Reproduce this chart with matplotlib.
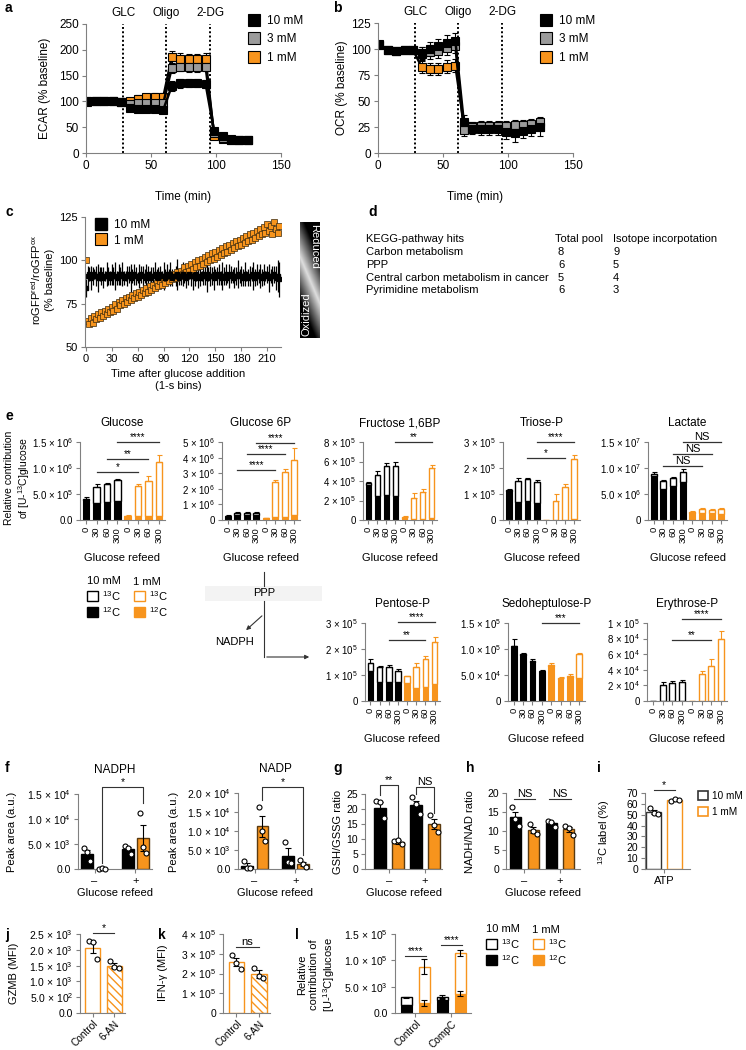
import numpy as np
import matplotlib.pyplot as plt
from matplotlib.lines import Line2D
from matplotlib.patches import Patch, Rectangle

# ---------------- data ----------------
# a / b : Seahorse traces (% baseline)
t_min = [1, 7.5, 14, 20.5, 27, 33.5, 40, 46.5, 53, 59.5, 66, 72.5, 79, 85.5, 92, 98.5, 105, 111.5, 118, 124.5]
inj_min = [28.5, 61.5, 95.5]
inj_labels = ['GLC', 'Oligo', '2-DG']
conc_labels = ['10 mM', '3 mM', '1 mM']

ecar_10 = [101, 101, 100, 100, 98, 87, 85, 85, 85, 84, 130, 135, 135, 135, 134, 43, 33, 28, 26, 26]
ecar_10_err = [3, 2, 2, 2, 2, 5, 5, 5, 5, 5, 9, 9, 8, 8, 8, 4, 3, 2, 2, 2]
ecar_3 = [100, 100, 100, 100, 98, 94, 96, 97, 97, 97, 165, 167, 166, 166, 167, 38, 30, 26, 25, 25]
ecar_3_err = [3, 2, 2, 2, 2, 6, 6, 6, 6, 6, 9, 9, 9, 9, 9, 4, 3, 2, 2, 2]
ecar_1 = [99, 100, 100, 100, 99, 101, 105, 108, 109, 109, 186, 183, 182, 182, 183, 33, 28, 25, 25, 25]
ecar_1_err = [3, 2, 2, 2, 2, 6, 7, 7, 7, 7, 12, 11, 10, 10, 10, 4, 3, 2, 2, 2]

ocr_10 = [105, 99, 98, 99, 99, 96, 100, 103, 106, 108, 30, 23, 23, 23, 23, 20, 19, 21, 23, 25]
ocr_10_err = [2, 1, 1, 1, 1, 6, 7, 7, 7, 7, 7, 5, 6, 6, 6, 7, 8, 7, 7, 9]
ocr_3 = [104, 99, 98, 99, 99, 95, 97, 98, 101, 103, 22, 25, 26, 26, 26, 26, 27, 27, 28, 30]
ocr_3_err = [2, 1, 1, 1, 1, 7, 7, 7, 7, 7, 6, 5, 5, 5, 5, 5, 5, 5, 5, 5]
ocr_1 = [104, 99, 98, 99, 99, 83, 81, 81, 83, 84, 28, 26, 26, 26, 26, 25, 25, 24, 25, 25]
ocr_1_err = [2, 1, 1, 1, 1, 6, 6, 6, 6, 6, 4, 3, 3, 3, 3, 3, 3, 3, 3, 3]

# c : roGFP ratio, one value every 2 s
ro_1 = [100, 65, 63, 67, 64, 68, 66, 69, 67, 70,
        68, 71, 69, 72, 70, 73, 71, 75, 72, 76,
        74, 77, 75, 78, 76, 79, 77, 80, 78, 81,
        79, 82, 80, 83, 81, 84, 82, 85, 83, 86,
        84, 87, 85, 88, 86, 89, 87, 90, 88, 91,
        89, 92, 90, 93, 91, 94, 92, 96, 93, 97,
        94, 98, 95, 99, 96, 100, 97, 101, 98, 102,
        99, 103, 100, 104, 101, 105, 102, 106, 103, 107,
        104, 108, 105, 109, 106, 110, 107, 111, 108, 112,
        109, 113, 110, 114, 111, 115, 112, 116, 113, 117,
        114, 118, 115, 119, 116, 121, 117, 120, 115, 122,
        118, 116, 120]
ro_10 = [84, 91, 92, 90, 91, 92, 91, 90, 92, 91,
         90, 91, 92, 91, 90, 92, 91, 91, 90, 92,
         91, 92, 90, 91, 91, 92, 90, 91, 92, 91,
         90, 91, 92, 91, 91, 90, 92, 91, 90, 91,
         92, 91, 90, 92, 91, 91, 90, 92, 91, 92,
         90, 91, 91, 92, 90, 91, 92, 91, 90, 91,
         92, 91, 91, 90, 92, 91, 90, 91, 92, 91,
         90, 92, 91, 91, 90, 92, 91, 92, 90, 91,
         91, 92, 90, 91, 92, 91, 90, 91, 92, 91,
         91, 90, 92, 91, 90, 91, 92, 91, 90, 92,
         91, 91, 90, 92, 91, 92, 90, 91, 91, 92,
         90, 91, 89]
ro_10_err = [5, 6, 4, 7, 5, 3, 6, 8, 4, 5,
             6, 3, 7, 5, 4, 6, 5, 8, 4, 6,
             5, 7, 4, 3, 6, 5, 8, 4, 6, 5,
             3, 7, 5, 6, 4, 8, 5, 3, 6, 5,
             7, 4, 6, 5, 3, 8, 5, 6, 4, 7,
             5, 3, 6, 9, 4, 5, 7, 4, 6, 5,
             3, 6, 8, 5, 4, 7, 5, 3, 6, 5,
             8, 4, 6, 5, 7, 3, 5, 6, 4, 8,
             5, 6, 3, 7, 5, 4, 6, 5, 8, 4,
             6, 5, 7, 3, 5, 6, 4, 8, 5, 6,
             4, 7, 5, 6, 3, 5, 8, 4, 6, 5,
             7, 9, 10]

# d : KEGG table
kegg_pathways = ['Carbon metabolism', 'PPP', 'Central carbon metabolism in cancer', 'Pyrimidine metabolism']
kegg_total = [8, 6, 5, 6]
kegg_isotope = [9, 5, 4, 3]

# e : stacked 12C / 13C, order 10 mM 0,30,60,300 then 1 mM 0,30,60,300
refeed_labels = ['0', '30', '60', '300', '0', '30', '60', '300']
glucose_total = [4.1e5, 6.3e5, 7.0e5, 7.6e5, 0.8e5, 6.5e5, 7.5e5, 11.2e5]
glucose_12c = [3.9e5, 3.2e5, 3.4e5, 3.6e5, 0.7e5, 0.8e5, 0.8e5, 0.8e5]
glucose_err = [0.3e5, 0.6e5, 0.2e5, 0.2e5, 0.1e5, 0.5e5, 1.0e5, 1.3e5]
glucose_sig = [(1, 5, 0.93e6, '*'), (2, 6, 1.18e6, '**'), (3, 7, 1.5e6, '****')]

g6p_total = [2.7e5, 4.5e5, 4.7e5, 4.5e5, 1.2e5, 24.5e5, 31e5, 38.5e5]
g6p_12c = [2.6e5, 3.0e5, 3.0e5, 3.0e5, 1.1e5, 1.8e5, 2.2e5, 3.0e5]
g6p_err = [0.2e5, 0.5e5, 0.5e5, 0.5e5, 0.1e5, 1.2e5, 1.5e5, 7.5e5]
g6p_sig = [(1, 5, 3.2e6, '****'), (2, 6, 4.25e6, '****'), (3, 7, 4.95e6, '****')]

fbp_total = [3.8e5, 4.6e5, 5.5e5, 5.5e5, 0.3e5, 2.3e5, 2.9e5, 5.3e5]
fbp_12c = [3.6e5, 2.5e5, 2.6e5, 2.5e5, 0.2e5, 0.1e5, 0.1e5, 0.2e5]
fbp_err = [0.1e5, 0.4e5, 0.3e5, 0.5e5, 0.1e5, 0.5e5, 0.3e5, 0.3e5]
fbp_sig = [(3, 7, 8.0e5, '**')]

triose_total = [1.15e5, 1.5e5, 1.57e5, 1.48e5, 0.01e5, 0.75e5, 1.28e5, 2.35e5]
triose_12c = [1.12e5, 0.68e5, 0.72e5, 0.66e5, 0.005e5, 0.01e5, 0.01e5, 0.05e5]
triose_err = [0.05e5, 0.1e5, 0.03e5, 0.05e5, 0.0, 0.25e5, 0.1e5, 0.15e5]
triose_sig = [(2, 6, 2.37e5, '*'), (3, 7, 3.0e5, '****')]

lactate_total = [8.9e6, 7.5e6, 8.0e6, 9.3e6, 1.6e6, 2.2e6, 2.0e6, 2.1e6]
lactate_12c = [8.5e6, 5.9e6, 6.6e6, 7.4e6, 1.4e6, 1.4e6, 1.3e6, 1.2e6]
lactate_err = [0.3e6, 0.2e6, 0.2e6, 0.5e6, 0.2e6, 0.2e6, 0.2e6, 0.2e6]
lactate_sig = [(1, 5, 1.04e7, 'NS'), (2, 6, 1.27e7, 'NS'), (3, 7, 1.5e7, 'NS')]

pentose_total = [1.45e5, 1.30e5, 1.32e5, 1.15e5, 0.95e5, 1.30e5, 1.62e5, 2.28e5]
pentose_12c = [1.15e5, 0.75e5, 0.75e5, 0.72e5, 0.7e5, 0.5e5, 0.55e5, 0.65e5]
pentose_err = [0.15e5, 0.05e5, 0.05e5, 0.1e5, 0.03e5, 0.15e5, 0.1e5, 0.2e5]
pentose_sig = [(2, 6, 2.35e5, '**'), (3, 7, 3.05e5, '****')]

sedo_total = [1.06e5, 0.9e5, 0.76e5, 0.58e5, 0.7e5, 0.44e5, 0.48e5, 0.91e5]
sedo_12c = [1.05e5, 0.88e5, 0.75e5, 0.57e5, 0.68e5, 0.43e5, 0.47e5, 0.45e5]
sedo_err = [0.13e5, 0.03e5, 0.05e5, 0.02e5, 0.04e5, 0.03e5, 0.03e5, 0.02e5]
sedo_sig = [(3, 7, 1.5e5, '***')]

ery_total = [0, 2.0e4, 2.3e4, 2.5e4, 0, 3.5e4, 4.5e4, 8.0e4]
ery_12c = [0, 0, 0, 0, 0, 0, 0, 0]
ery_err = [0, 0.5e4, 0.3e4, 0.2e4, 0, 0.4e4, 0.9e4, 1.0e4]
ery_sig = [(2, 6, 7.8e4, '**'), (3, 7, 1.05e5, '****')]

# f : peak areas, order (-,10), (-,1), (+,10), (+,1)
nadph_mean = [3.1e3, 0.1e3, 4.0e3, 6.3e3]
nadph_err = [0.7e3, 0.05e3, 0.4e3, 2.6e3]
nadph_pts = [[4.3e3, 3.4e3, 1.7e3], [0.1e3, 0.12e3, 0.08e3], [4.6e3, 4.3e3, 3.0e3], [11.2e3, 4.5e3, 3.3e3]]
nadp_mean = [0.9e3, 11.2e3, 3.5e3, 1.3e3]
nadp_err = [0.65e3, 2.7e3, 1.9e3, 0.55e3]
nadp_pts = [[2.2e3, 0.3e3, 0.2e3], [16.3e3, 10.0e3, 7.4e3], [7.2e3, 1.8e3, 1.5e3], [2.3e3, 1.2e3, 0.4e3]]

# g / h
gsh_mean = [20.5, 9.0, 21.2, 15.0]
gsh_err = [1.7, 0.6, 1.6, 1.6]
gsh_pts = [[22.7, 22.3, 17.0], [9.3, 9.6, 8.2], [24.0, 21.8, 18.5], [18.0, 14.8, 12.3]]
nadh_mean = [13.6, 10.3, 12.0, 10.4]
nadh_err = [1.5, 0.7, 0.5, 0.6]
nadh_pts = [[16.3, 13.2, 11.3], [11.8, 10.1, 9.1], [12.7, 12.4, 11.0], [11.4, 10.9, 9.0]]

# i
atp_mean = [52.8, 63.8]
atp_err = [1.8, 0.6]
atp_pts = [[56.0, 51.5, 51.0], [63.0, 64.8, 63.5]]

# j / k
drug_labels = ['Control', '6-AN']
gzmb_mean = [2.07e3, 1.50e3]
gzmb_err = [0.17e3, 0.08e3]
gzmb_pts = [[2.27e3, 2.24e3, 1.72e3], [1.66e3, 1.45e3, 1.42e3]]
ifng_mean = [2.57e5, 1.98e5]
ifng_err = [0.2e5, 0.2e5]
ifng_pts = [[2.93e5, 2.52e5, 2.24e5], [2.3e5, 1.85e5, 1.75e5]]

# l : order control 10, control 1, CompC 10, CompC 1
compc_labels = ['Control', 'CompC']
compc_total = [0.3e5, 0.88e5, 0.31e5, 1.14e5]
compc_total_err = [0.01e5, 0.14e5, 0.04e5, 0.05e5]
compc_12c = [0.15e5, 0.19e5, 0.25e5, 0.37e5]
compc_12c_err = [0.01e5, 0.06e5, 0.04e5, 0.04e5]

# ---------------- style ----------------
ORANGE = '#F7941D'
GRAY3 = '#9B9B9B'
SPINE = '#808080'

plt.rcParams['font.family'] = ['Liberation Sans', 'DejaVu Sans']
plt.rcParams['font.size'] = 8
plt.rcParams['mathtext.default'] = 'regular'
plt.rcParams['hatch.linewidth'] = 1.0
plt.rcParams['hatch.color'] = ORANGE

W, H = 746, 1050
fig = plt.figure(figsize=(W / 100, H / 100), dpi=100)


def place(l, t, r, b):
    ax = fig.add_axes([l / W, 1 - b / H, (r - l) / W, (b - t) / H])
    ax.spines['top'].set_visible(False)
    ax.spines['right'].set_visible(False)
    for s in ('left', 'bottom'):
        ax.spines[s].set_color(SPINE)
        ax.spines[s].set_linewidth(0.8)
    ax.tick_params(length=3, width=0.8, color=SPINE, pad=2, labelsize=7.5)
    ax.patch.set_alpha(0)
    return ax


over = fig.add_axes([0, 0, 1, 1])
over.axis('off')


def ylab(x, y, s, **kw):
    over.text(x, y, s, rotation=90, ha='center', va='center', multialignment='center', **kw)


def bracket(ax, x0, x1, top, l0, l1, label, fs=7.5):
    ax.plot([x0, x0, x1, x1], [l0, top, top, l1], color='#333333', lw=0.8, clip_on=False)
    ax.text((x0 + x1) / 2, top, label, ha='center', va='bottom', fontsize=fs, clip_on=False)


# ---------------- a / b ----------------
def trace_panel(ax, sets, ymax, ystep):
    for y, e, c in sets:
        ax.errorbar(t_min, y, yerr=e, color='black', lw=1.8, marker='s', ms=5.4, mfc=c,
                    mec='black', mew=0.8, capsize=2, elinewidth=0.8, capthick=0.8)
    for xv, lab in zip(inj_min, inj_labels):
        ax.axvline(xv, color='black', ls=(0, (1, 1.2)), lw=1.4)
        ax.text(xv, 1.085, lab, transform=ax.get_xaxis_transform(), ha='center', va='center', fontsize=8.5)
    ax.set_xlim(0, 150)
    ax.set_ylim(0, ymax)
    ax.set_xticks([0, 50, 100, 150])
    ax.set_yticks(np.arange(0, ymax + 1, ystep))
    ax.tick_params(labelsize=8.5)
    ax.set_xlabel('Time (min)', fontsize=8.5, labelpad=14)


axa = place(86, 24, 281, 153)
trace_panel(axa, [(ecar_1, ecar_1_err, ORANGE), (ecar_3, ecar_3_err, GRAY3), (ecar_10, ecar_10_err, 'black')], 250, 50)
ylab(45, 88, 'ECAR (% baseline)', fontsize=8.5)
axb = place(378, 23, 573, 153)
trace_panel(axb, [(ocr_1, ocr_1_err, ORANGE), (ocr_3, ocr_3_err, GRAY3), (ocr_10, ocr_10_err, 'black')], 125, 25)
ylab(342, 88, 'OCR (% baseline)', fontsize=8.5)

hand = [Line2D([], [], ls='none', marker='s', ms=8, mfc=c, mec='black', mew=0.8)
        for c in ('black', GRAY3, ORANGE)]
for xl in (248, 540):
    fig.legend(hand, conc_labels, loc='upper left', bbox_to_anchor=(xl / W, 1 - 15 / H), frameon=False,
               fontsize=8.5, handlelength=1.0, handletextpad=0.6, labelspacing=0.55, borderpad=0, borderaxespad=0)

# ---------------- c ----------------
axc = place(85, 217, 281, 347)
t_c = np.arange(len(ro_10)) * 2
axc.errorbar(t_c, ro_10, yerr=ro_10_err, fmt='s', color='black', ms=3, elinewidth=0.9, capsize=0)
axc.plot(np.arange(len(ro_1)) * 2, ro_1, 's', ms=4.3, mfc=ORANGE, mec='#3a2a10', mew=0.5, ls='none')
axc.set_xlim(-1, 226)
axc.set_ylim(50, 125)
axc.set_xticks(range(0, 211, 30))
axc.set_yticks([50, 75, 100, 125])
axc.tick_params(labelsize=8)
axc.legend([Line2D([], [], ls='none', marker='s', ms=8, mfc='black', mec='black'),
            Line2D([], [], ls='none', marker='s', ms=8, mfc=ORANGE, mec='black', mew=0.8)],
           ['10 mM', '1 mM'], loc='upper left', bbox_to_anchor=(0.02, 1.03), frameon=False, fontsize=8.5,
           handlelength=1.0, handletextpad=0.6, labelspacing=0.3, borderpad=0)
over.text(178, 380, 'Time after glucose addition\n(1-s bins)', ha='center', va='center', fontsize=8, linespacing=1.3)
ylab(42, 280, 'roGFP$^{red}$/roGFP$^{ox}$\n(% baseline)', fontsize=8, linespacing=1.3)

uu, vv = np.meshgrid(np.linspace(0, 1, 40), np.linspace(0, 1, 200))
shade = np.clip(1 - 2.6 * np.abs(vv - (0.3 + 0.4 * uu)), 0, 1)
over.imshow(shade, cmap='gray', vmin=0, vmax=1.15, extent=(300, 320, 338, 222), aspect='auto')
over.text(314, 246, 'Reduced', rotation=-90, color='white', fontsize=8, ha='center', va='center')
over.text(306, 314, 'Oxidized', rotation=90, color='white', fontsize=8, ha='center', va='center')

# ---------------- d ----------------
rows_y = [252, 265, 278, 290]
over.text(366, 239, 'KEGG-pathway hits', va='center', fontsize=8)
over.text(555, 239, 'Total pool', va='center', fontsize=8)
over.text(613, 239, 'Isotope incorpotation', va='center', fontsize=8)
for yy, name, tp, iso in zip(rows_y, kegg_pathways, kegg_total, kegg_isotope):
    over.text(366, yy, name, va='center', fontsize=8)
    over.text(558, yy, str(tp), va='center', fontsize=8)
    over.text(613, yy, str(iso), va='center', fontsize=8)


# ---------------- e ----------------
def stack_panel(box, title, total, c12, err, sig, yt, ytl):
    ax = place(*box)
    x = np.arange(len(total))
    cols = ['black'] * 4 + [ORANGE] * 4
    c13 = np.array(total) - np.array(c12)
    ax.bar(x, c12, 0.62, color=cols, edgecolor=cols, lw=0.8, zorder=2)
    ax.bar(x, c13, 0.62, bottom=c12, color='white', edgecolor=cols, lw=1.0, zorder=2)
    for xi, tv, e, c in zip(x, total, err, cols):
        if e > 0:
            ax.errorbar(xi, tv, yerr=[[0], [e]], color=c, capsize=1.8, elinewidth=0.8, capthick=0.8, zorder=3)
    for i, j, h, s in sig:
        ax.plot([i, j], [h, h], color='#333333', lw=0.9, clip_on=False)
        ax.text((i + j) / 2, h, s, ha='center', va='bottom', fontsize=7 if '*' in s else 8, clip_on=False)
    ax.set_xlim(-0.6, 7.6)
    ax.set_ylim(0, yt[-1])
    ax.set_yticks(yt)
    ax.set_yticklabels(ytl, fontsize=7)
    ax.set_xticks(x)
    ax.set_xticklabels(refeed_labels, rotation=90, fontsize=6.8)
    hpx = box[3] - box[1]
    ax.text(0.5, 1 + 19 / hpx, title, transform=ax.transAxes, ha='center', va='center', fontsize=8.5)
    ax.text(0.5, -38 / hpx, 'Glucose refeed', transform=ax.transAxes, ha='center', va='center', fontsize=8)
    return ax


stack_panel((80, 442, 165, 520), 'Glucose', glucose_total, glucose_12c, glucose_err, glucose_sig,
            [0, 5e5, 1e6, 1.5e6], ['0.0', '5.0 × 10$^5$', '1.0 × 10$^6$', '1.5 × 10$^6$'])
stack_panel((222, 442, 300, 520), 'Glucose 6P', g6p_total, g6p_12c, g6p_err, g6p_sig,
            [0, 1e6, 2e6, 3e6, 4e6, 5e6], ['0', '1 × 10$^6$', '2 × 10$^6$', '3 × 10$^6$', '4 × 10$^6$', '5 × 10$^6$'])
stack_panel((363, 442, 437, 520), 'Fructose 1,6BP', fbp_total, fbp_12c, fbp_err, fbp_sig,
            [0, 2e5, 4e5, 6e5, 8e5], ['0', '2 × 10$^5$', '4 × 10$^5$', '6 × 10$^5$', '8 × 10$^5$'])
stack_panel((503, 442, 580, 520), 'Triose-P', triose_total, triose_12c, triose_err, triose_sig,
            [0, 1e5, 2e5, 3e5], ['0', '1 × 10$^5$', '2 × 10$^5$', '3 × 10$^5$'])
stack_panel((648, 442, 727, 520), 'Lactate', lactate_total, lactate_12c, lactate_err, lactate_sig,
            [0, 5e6, 1e7, 1.5e7], ['0', '5.0 × 10$^6$', '1.0 × 10$^7$', '1.5 × 10$^7$'])
stack_panel((365, 623, 440, 701), 'Pentose-P', pentose_total, pentose_12c, pentose_err, pentose_sig,
            [0, 1e5, 2e5, 3e5], ['0', '1 × 10$^5$', '2 × 10$^5$', '3 × 10$^5$'])
stack_panel((508, 623, 585, 701), 'Sedoheptulose-P', sedo_total, sedo_12c, sedo_err, sedo_sig,
            [0, 5e4, 1e5, 1.5e5], ['0', '5.0 × 10$^4$', '1.0 × 10$^5$', '1.5 × 10$^5$'])
stack_panel((647, 623, 727, 701), 'Erythrose-P', ery_total, ery_12c, ery_err, ery_sig,
            [0, 2e4, 4e4, 6e4, 8e4, 1e5], ['0', '2 × 10$^4$', '4 × 10$^4$', '6 × 10$^4$', '8 × 10$^4$', '1 × 10$^5$'])
ylab(18, 478, 'Relative contribution\nof [U-$^{13}$C]glucose', fontsize=7.5, linespacing=1.25)


def iso_legend(x, y):
    over.text(x, y, '10 mM', va='center', fontsize=8)
    over.text(x + 46, y + 1, '1 mM', va='center', fontsize=8)
    for dx, col in ((0, 'black'), (47, ORANGE)):
        over.add_patch(Rectangle((x + dx, y + 10), 11, 10, facecolor='white', edgecolor=col, lw=1.0))
        over.add_patch(Rectangle((x + dx, y + 26), 11, 10, facecolor=col, edgecolor=col, lw=1.0))
        over.text(x + dx + 15, y + 15, '$^{13}$C', va='center', fontsize=8)
        over.text(x + dx + 15, y + 31, '$^{12}$C', va='center', fontsize=8)


iso_legend(87, 581)

# PPP sketch
over.add_patch(Rectangle((205, 586), 117, 15, facecolor='#F3F3F3', edgecolor='none'))
over.plot([264, 264], [572, 586], color='#333333', lw=0.8)
over.plot([264, 264], [601, 657], color='#333333', lw=0.8)
over.text(264, 593, 'PPP', ha='center', va='center', fontsize=8)
over.annotate('', xy=(244, 632), xytext=(264, 614),
              arrowprops=dict(arrowstyle='-|>', color='#333333', lw=0.8, mutation_scale=6))
over.annotate('', xy=(312, 657), xytext=(264, 657),
              arrowprops=dict(arrowstyle='-|>', color='#333333', lw=0.8, mutation_scale=6))
over.text(235, 642, 'NADPH', ha='center', va='center', fontsize=8)


# ---------------- f / g / h / i ----------------
def dot_bars(ax, xs, means, errs, pts, faces, edges, width, hatches=None, jit=(-0.2, 0.0, 0.2)):
    for k, (xv, m, e, p) in enumerate(zip(xs, means, errs, pts)):
        ax.bar(xv, m, width, color=faces[k], edgecolor=edges[k], lw=1.0,
               hatch=None if hatches is None else hatches[k], zorder=2)
        ax.errorbar(xv, m, yerr=e, color='black', capsize=2, elinewidth=0.8, capthick=0.8, zorder=3)
        ax.plot(xv + np.array(jit[:len(p)]), p, 'o', ms=3.6, mfc='white', mec='black', mew=0.8, zorder=4,
                clip_on=False)


grp_face = ['black', ORANGE, 'black', ORANGE]
grp_edge = ['black', '#5a3a10', 'black', '#5a3a10']

axf1 = place(78, 794, 152, 869)
dot_bars(axf1, [0, 1, 2.7, 3.7], nadph_mean, nadph_err, nadph_pts, grp_face, grp_edge, 0.75)
axf1.set_xlim(-0.6, 4.3)
axf1.set_ylim(0, 1.5e4)
axf1.set_yticks([0, 5e3, 1e4, 1.5e4])
axf1.set_yticklabels(['0.0', '5.0 × 10$^3$', '1.0 × 10$^4$', '1.5 × 10$^4$'])
bracket(axf1, 1, 3.7, 1.64e4, 1.2e3, 1.32e4, '*')

axf2 = place(238, 793, 312, 869)
dot_bars(axf2, [0, 1, 2.7, 3.7], nadp_mean, nadp_err, nadp_pts, grp_face, grp_edge, 0.75)
axf2.set_xlim(-0.6, 4.3)
axf2.set_ylim(0, 2e4)
axf2.set_yticks([0, 5e3, 1e4, 1.5e4, 2e4])
axf2.set_yticklabels(['0.0', '5.0 × 10$^3$', '1.0 × 10$^4$', '1.5 × 10$^4$', '2.0 × 10$^4$'])
bracket(axf2, 1, 3.7, 2.16e4, 1.82e4, 3.7e3, '*')
for axx, ttl in ((axf1, 'NADPH'), (axf2, 'NADP')):
    axx.set_xticks([0.5, 3.2])
    axx.set_xticklabels(['–', '+'], fontsize=8)
    axx.text(0.5, 1 + 24 / 75, ttl, transform=axx.transAxes, ha='center', va='center', fontsize=8.5)
    axx.text(0.5, -24 / 75, 'Glucose refeed', transform=axx.transAxes, ha='center', va='center', fontsize=8)
ylab(12, 832, 'Peak area (a.u.)', fontsize=8)
ylab(174, 832, 'Peak area (a.u.)', fontsize=8)

axg = place(365, 794, 442, 869)
dot_bars(axg, [0, 1, 2, 3], gsh_mean, gsh_err, gsh_pts, grp_face, grp_edge, 0.67)
axg.set_xlim(-0.83, 3.44)
axg.set_ylim(0, 25)
axg.set_yticks(range(0, 26, 5))
bracket(axg, 0, 1, 28, 24.6, 10.6, '**')
bracket(axg, 2, 3, 27.3, 25, 18.6, 'NS', fs=8)
ylab(338, 832, 'GSH/GSSG ratio', fontsize=8)

axh = place(506, 793, 580, 869)
dot_bars(axh, [0, 1, 2, 3], nadh_mean, nadh_err, nadh_pts, grp_face, grp_edge, 0.62)
axh.set_xlim(-0.53, 3.62)
axh.set_ylim(0, 20)
axh.set_yticks(range(0, 21, 5))
bracket(axh, -0.1, 1.1, 18.4, 18.4, 18.4, 'NS', fs=8)
bracket(axh, 1.9, 3.1, 18.4, 18.4, 18.4, 'NS', fs=8)
ylab(470, 832, 'NADH/NAD ratio', fontsize=8)
for axx in (axg, axh):
    axx.set_xticks([0.5, 2.5])
    axx.set_xticklabels(['–', '+'], fontsize=8)
    axx.text(0.5, -24 / 75, 'Glucose refeed', transform=axx.transAxes, ha='center', va='center', fontsize=8)

axi = place(645, 793, 690, 869)
dot_bars(axi, [0, 1], atp_mean, atp_err, atp_pts, ['white', 'white'], ['#333333', ORANGE], 0.72)
axi.set_xlim(-0.42, 1.72)
axi.set_ylim(0, 70)
axi.set_yticks(range(0, 71, 10))
axi.tick_params(labelsize=7.5)
axi.set_xticks([0.5])
axi.set_xticklabels(['ATP'], fontsize=8)
bracket(axi, 0, 1, 72.6, 72.6, 72.6, '*')
ylab(604, 832, '$^{13}$C label (%)', fontsize=8)
fig.legend([Patch(facecolor='white', edgecolor='#333333', lw=1.2), Patch(facecolor='white', edgecolor=ORANGE, lw=1.2)],
           ['10 mM', '1 mM'], loc='upper left', bbox_to_anchor=(698 / W, 1 - 791 / H), frameon=False, fontsize=7.2,
           handlelength=1.0, handleheight=1.0, handletextpad=0.35, labelspacing=0.6, borderpad=0, borderaxespad=0)

# ---------------- j / k ----------------
for box, mean, err, pts, yt, ytl, sig_h, sig_s, yl, ylx in (
        ((80, 934, 125, 1013), gzmb_mean, gzmb_err, gzmb_pts, [0, 5e2, 1e3, 1.5e3, 2e3, 2.5e3],
         ['0.0', '5.0 × 10$^2$', '1.0 × 10$^3$', '1.5 × 10$^3$', '2.0 × 10$^3$', '2.5 × 10$^3$'],
         2.52e3, '*', 'GZMB (MFI)', 14),
        ((223, 934, 270, 1013), ifng_mean, ifng_err, ifng_pts, [0, 1e5, 2e5, 3e5, 4e5],
         ['0', '1 × 10$^5$', '2 × 10$^5$', '3 × 10$^5$', '4 × 10$^5$'],
         3.35e5, 'ns', 'IFN-γ (MFI)', 163)):
    axx = place(*box)
    dot_bars(axx, [0, 1], mean, err, pts, ['white', 'white'], [ORANGE, ORANGE], 0.7, hatches=[None, '\\\\\\\\'])
    axx.set_xlim(-0.6, 1.5)
    axx.set_ylim(0, yt[-1])
    axx.set_yticks(yt)
    axx.set_yticklabels(ytl)
    axx.set_xticks([0, 1])
    axx.set_xticklabels(drug_labels, rotation=45, ha='right', rotation_mode='anchor', fontsize=7.3)
    axx.tick_params(axis='x', pad=1)
    bracket(axx, 0, 1, sig_h, sig_h, sig_h, sig_s, fs=8 if sig_s == 'ns' else 7.5)
    ylab(ylx, 973, yl, fontsize=8)

# ---------------- l ----------------
axl = place(395, 934, 471, 1013)
lx = np.arange(4)
lcol = ['black', ORANGE, 'black', ORANGE]
axl.bar(lx, compc_12c, 0.62, color=lcol, edgecolor=lcol, lw=0.8, zorder=2)
axl.bar(lx, np.array(compc_total) - np.array(compc_12c), 0.62, bottom=compc_12c, color='white',
        edgecolor=lcol, lw=1.0, zorder=2)
axl.errorbar(lx, compc_total, yerr=compc_total_err, fmt='none', ecolor='black', capsize=2.5, elinewidth=0.8, capthick=0.8, zorder=3)
axl.errorbar(lx, compc_12c, yerr=compc_12c_err, fmt='none', ecolor='black', capsize=2.5, elinewidth=0.8, capthick=0.8, zorder=3)
axl.set_xlim(-0.64, 3.6)
axl.set_ylim(0, 1.5e5)
axl.set_yticks([0, 5e4, 1e5, 1.5e5])
axl.set_yticklabels(['0.0', '5.0 × 10$^3$', '1.0 × 10$^5$', '1.5 × 10$^5$'])
axl.set_xticks([0.5, 2.5])
axl.set_xticklabels(compc_labels, rotation=45, ha='right', rotation_mode='anchor', fontsize=7.3)
axl.tick_params(axis='x', pad=1)
bracket(axl, -0.1, 1.1, 1.08e5, 1.08e5, 1.08e5, '****', fs=7)
bracket(axl, 1.9, 3.1, 1.29e5, 1.29e5, 1.29e5, '****', fs=7)
ylab(317, 975, 'Relative\ncontribution of\n[U-$^{13}$C]glucose', fontsize=8, linespacing=1.2)
iso_legend(486, 929)

# ---------------- panel letters ----------------
for ch, x, y in (('a', 5, 8), ('b', 333, 8), ('c', 5, 212), ('d', 368, 212), ('e', 5, 416),
                 ('f', 5, 768), ('g', 333, 768), ('h', 466, 768), ('i', 597, 768),
                 ('j', 5, 935), ('k', 158, 935), ('l', 295, 935)):
    over.text(x, y, ch, fontsize=10, weight='bold', va='center')

over.set_xlim(0, W)
over.set_ylim(H, 0)
fig.savefig('out.png', dpi=100)
